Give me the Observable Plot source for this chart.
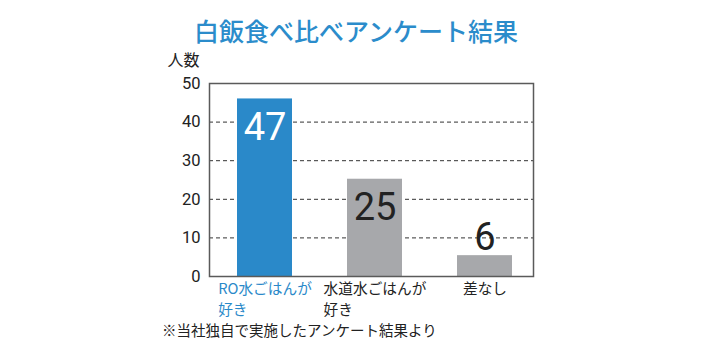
<!DOCTYPE html>
<html><head><meta charset="utf-8">
<script src="https://cdn.jsdelivr.net/npm/d3@7"></script>
<script src="https://cdn.jsdelivr.net/npm/@observablehq/plot@0.6"></script>
<style>
body{margin:0;background:#fff;font-family:"Noto Sans CJK JP",sans-serif;}
#wrap{width:712px;}
h1{margin:0;height:48px;line-height:60px;text-align:center;font-size:25px;font-weight:500;color:#2b8ccb;overflow:visible;}
#chart{height:280px;}
#chart svg{display:block;}
.cap{margin:-6px 0 0 162px;font-size:14.5px;line-height:16px;color:#222;}
</style></head><body>
<div id="wrap">
<h1>白飯食べ比べアンケート結果</h1>
<div id="chart"></div>
<p class="cap">※当社独自で実施したアンケート結果より</p>
</div>
<script>
const categories = ["RO水ごはんが\n好き", "水道水ごはんが\n好き", "差なし"];
const barHeights = [46, 25.2, 5.4];
const valueLabels = ["47", "25", "6"];
const barColors = ["#2a89c9", "#a7a8ab", "#a7a8ab"];
const categoryLabelColors = ["#2a89c9", "#222222", "#222222"];
const valueLabelColors = ["#ffffff", "#222222", "#222222"];
const yTicks = [0, 10, 20, 30, 40, 50];
const gridTicks = [10, 20, 30, 40];
const yLabel = "人数";

const rows = categories.map((c, i) => ({
  c, v: barHeights[i], label: valueLabels[i],
  bar: barColors[i], lc: categoryLabelColors[i], vc: valueLabelColors[i]
}));

const chart = Plot.plot({
  width: 712,
  height: 280,
  marginTop: 35,
  marginBottom: 52,
  marginLeft: 209,
  marginRight: 179,
  style: {fontFamily: '"Noto Sans CJK JP", sans-serif', background: "#fff"},
  x: {domain: categories, paddingInner: 0.5, paddingOuter: 0.2095, align: 0.58, axis: null},
  y: {domain: [0, 50]},
  color: {type: "identity"},
  marks: [
    Plot.gridY(gridTicks, {stroke: "#333", strokeOpacity: 1, strokeWidth: 1, strokeDasharray: "4,3"}),
    Plot.barY(rows, {x: "c", y: "v", fill: "bar"}),
    Plot.frame({stroke: "#5a5a5a", strokeWidth: 1.5}),
    Plot.axisY(yTicks, {tickSize: 0, tickPadding: 9, fontSize: 16.5, fill: "#222", label: null, fontFamily: "Roboto"}),
    Plot.text(rows, {x: "c", text: "c", frameAnchor: "bottom", textAnchor: "middle", lineAnchor: "top", dy: 3, fill: "lc", fontSize: 14.7, lineHeight: 1.4}),
    Plot.text(rows.filter(d => d.v >= 10), {x: "c", y: "v", text: "label", dy: 29, fill: "vc", fontSize: 38, fontFamily: "Roboto"}),
    Plot.text(rows.filter(d => d.v < 10), {x: "c", y: "v", text: "label", dy: -18, fill: "vc", fontSize: 38, fontFamily: "Roboto"}),
    Plot.text([yLabel], {frameAnchor: "top-left", textAnchor: "middle", lineAnchor: "middle", dx: -26, dy: -23, fontSize: 16, fill: "#222"})
  ]
});
document.getElementById("chart").appendChild(chart);

// left-align the second line of two-line category labels with the start of the first line
chart.querySelectorAll("text").forEach(function (el) {
  const tspans = el.querySelectorAll("tspan");
  if (tspans.length < 2) return;
  const w = tspans[0].getComputedTextLength();
  el.setAttribute("text-anchor", "start");
  el.style.textAnchor = "start";
  tspans.forEach(t => t.setAttribute("x", String(-w / 2)));
});
</script>
</body></html>
